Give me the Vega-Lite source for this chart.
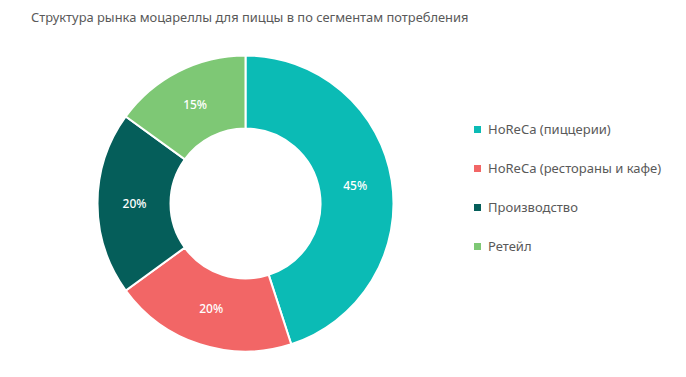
{
  "$schema": "https://vega.github.io/schema/vega-lite/v6.json",
  "autosize": "none",
  "width": 491,
  "height": 327,
  "padding": {"top": 40, "left": 0, "right": 195, "bottom": 10},
  "background": "white",
  "title": {
    "text": "Структура рынка моцареллы для пиццы в по сегментам потребления",
    "anchor": "start",
    "frame": "group",
    "dx": 31,
    "offset": 15,
    "limit": 1000,
    "font": "Noto Sans",
    "fontSize": 12.9,
    "fontWeight": "normal",
    "color": "#595959"
  },
  "data": {
    "values": [
      {"segment": "HoReCa (пиццерии)", "share": 45, "label": "45%", "ord": 1},
      {"segment": "HoReCa (рестораны и кафе)", "share": 20, "label": "20%", "ord": 2},
      {"segment": "Производство", "share": 20, "label": "20%", "ord": 3},
      {"segment": "Ретейл", "share": 15, "label": "15%", "ord": 4}
    ]
  },
  "encoding": {
    "theta": {"field": "share", "type": "quantitative", "stack": true},
    "order": {"field": "ord", "type": "quantitative"},
    "color": {
      "field": "segment",
      "type": "nominal",
      "sort": ["HoReCa (пиццерии)", "HoReCa (рестораны и кафе)", "Производство", "Ретейл"],
      "scale": {
        "domain": ["HoReCa (пиццерии)", "HoReCa (рестораны и кафе)", "Производство", "Ретейл"],
        "range": ["#0BBBB5", "#F26666", "#055E5A", "#7EC875"]
      },
      "legend": {
        "title": null,
        "orient": "none",
        "legendX": 471,
        "legendY": 83,
        "symbolType": "square",
        "symbolSize": 49,
        "symbolStrokeWidth": 0,
        "labelFont": "Noto Sans",
        "labelFontSize": 13,
        "labelColor": "#595959",
        "labelLimit": 300,
        "rowPadding": 25,
        "labelOffset": 4
      }
    }
  },
  "layer": [
    {
      "mark": {"type": "arc", "innerRadius": 75, "outerRadius": 148, "stroke": "white", "strokeWidth": 2}
    },
    {
      "mark": {"type": "text", "radius": 111, "color": "white", "font": "Noto Sans", "fontSize": 12, "fontWeight": 500},
      "encoding": {
        "text": {"field": "label", "type": "nominal"},
        "color": {"value": "white"}
      }
    }
  ],
  "config": {"view": {"stroke": null}}
}
